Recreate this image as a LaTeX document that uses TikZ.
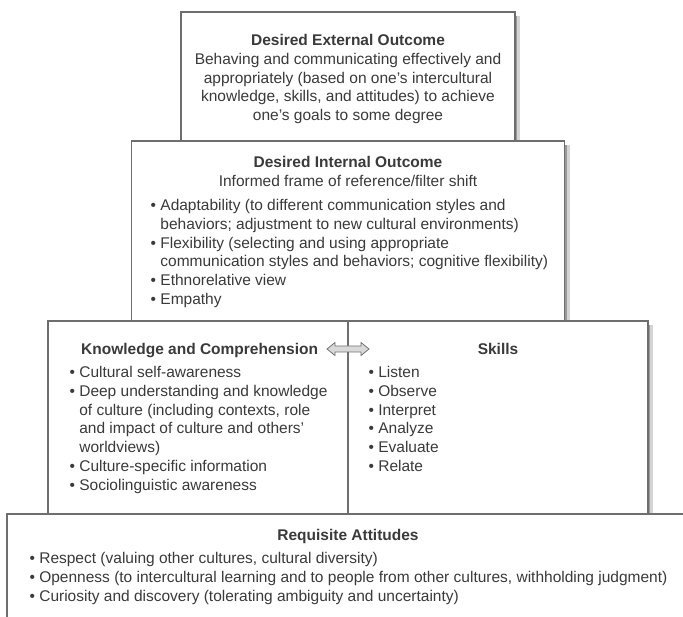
\documentclass[tikz,border=0pt]{standalone}
\usepackage{fontspec}
\setmainfont{Liberation Sans}
\usepackage{xcolor}
\usetikzlibrary{calc, positioning, backgrounds}
\definecolor{linegray}{HTML}{6E6E6E}
\definecolor{textgray}{HTML}{3A3A3A}
\newcommand{\itembul}{\textbullet\ }
\newcommand{\itemgap}{\hphantom{\textbullet\ }}
\tikzset{box node/.style={draw=linegray,line width=1.1pt,fill=white,inner sep=0pt,outer sep=0pt},
shadow dark/.style={fill=black!40},
shadow light/.style={fill=black!17}}

\begin{document}
\begin{tikzpicture}[x=1pt,y=-1pt,
                    text node/.style={inner sep=0pt,text=textgray,font=\fontsize{15.5}{18.8}\selectfont},
                    link arrow/.style={draw=black!55,fill=black!15,line width=0.8pt,line join=miter}]
  \clip (0,0) rectangle (683,617);

%DRAWING BOXES
  \node[box node,minimum width=334pt,minimum height=129pt] (external) at (348,76.5) {};
  \node[box node,minimum width=433pt,minimum height=180pt] (internal) [below=0pt of external] {};
  \node[box node,minimum width=600pt,minimum height=193pt] (foundation) [below=0pt of internal] {};
  \node[box node,minimum width=700pt,minimum height=120pt] (attitudes) [below=0pt of foundation,xshift=9pt] {};
  \draw[draw=linegray,line width=1.1pt] (foundation.north) -- (foundation.south);

%DRAWING SHADOWS
  \begin{scope}[on background layer]
    \fill[shadow dark] ([yshift=-4pt]external.north east) rectangle ([xshift=2pt]external.south east);
    \fill[shadow light] ([xshift=2pt,yshift=-4pt]external.north east) rectangle ([xshift=5pt]external.south east);
    \fill[shadow dark] ([yshift=-4pt]internal.north east) rectangle ([xshift=2pt]internal.south east);
    \fill[shadow light] ([xshift=2pt,yshift=-4pt]internal.north east) rectangle ([xshift=5pt]internal.south east);
    \fill[shadow dark] ([yshift=-4pt]foundation.north east) rectangle ([xshift=2pt]foundation.south east);
    \fill[shadow light] ([xshift=2pt,yshift=-4pt]foundation.north east) rectangle ([xshift=5pt]foundation.south east);
  \end{scope}

%DRAWING TEXTS
  \node[text node,align=center] (externaltext) [below=22pt of external.north]
    {{\bfseries Desired External Outcome}\\
     Behaving and communicating effectively and\\
     appropriately (based on one’s intercultural\\
     knowledge, skills, and attitudes) to achieve\\
     one’s goals to some degree};

  \node[text node,align=center] (internaltitle) [below=15.5pt of internal.north]
    {{\bfseries Desired Internal Outcome}\\
     Informed frame of reference/filter shift};
  \node[text node,align=left,anchor=north west] (internallist) at (150.5,199)
    {\itembul Adaptability (to different communication styles and\\
     \itemgap behaviors; adjustment to new cultural environments)\\
     \itembul Flexibility (selecting and using appropriate\\
     \itemgap communication styles and behaviors; cognitive flexibility)\\
     \itembul Ethnorelative view\\
     \itembul Empathy};

  \node[text node,anchor=north west,font=\fontsize{15.5}{18.8}\selectfont\bfseries] (knowledge) at (81,343.5) {Knowledge and Comprehension};
  \node[text node,align=left,anchor=north west] (knowledgelist) at (69.4,366)
    {\itembul Cultural self-awareness\\
     \itembul Deep understanding and knowledge\\
     \itemgap of culture (including contexts, role\\
     \itemgap and impact of culture and others’\\
     \itemgap worldviews)\\
     \itembul Culture-specific information\\
     \itembul Sociolinguistic awareness};

  \node[text node,anchor=north,font=\fontsize{15.5}{18.8}\selectfont\bfseries] (skills) at (498,343.5) {Skills};
  \node[text node,align=left,anchor=north west] (skillslist) at (368.4,366)
    {\itembul Listen\\
     \itembul Observe\\
     \itembul Interpret\\
     \itembul Analyze\\
     \itembul Evaluate\\
     \itembul Relate};

  \node[text node,font=\fontsize{15.5}{18.8}\selectfont\bfseries,anchor=north] (attitudestitle) at (348,529.5) {Requisite Attitudes};
  \node[text node,align=left,anchor=north west] (attitudeslist) at (29.4,552)
    {\itembul Respect (valuing other cultures, cultural diversity)\\
     \itembul Openness (to intercultural learning and to people from other cultures, withholding judgment)\\
     \itembul Curiosity and discovery (tolerating ambiguity and uncertainty)};

%DRAWING LINK
  \coordinate (link) at ($(foundation.north)+(0,28)$);
  \draw[link arrow] ($(link)+(-21,0)$) -- ++(8,-6.5) -- ++(0,3.5) -- ++(26,0) -- ++(0,-3.5)
    -- ++(8,6.5) -- ++(-8,6.5) -- ++(0,-3.5) -- ++(-26,0) -- ++(0,3.5) -- cycle;

\end{tikzpicture}
\end{document}
